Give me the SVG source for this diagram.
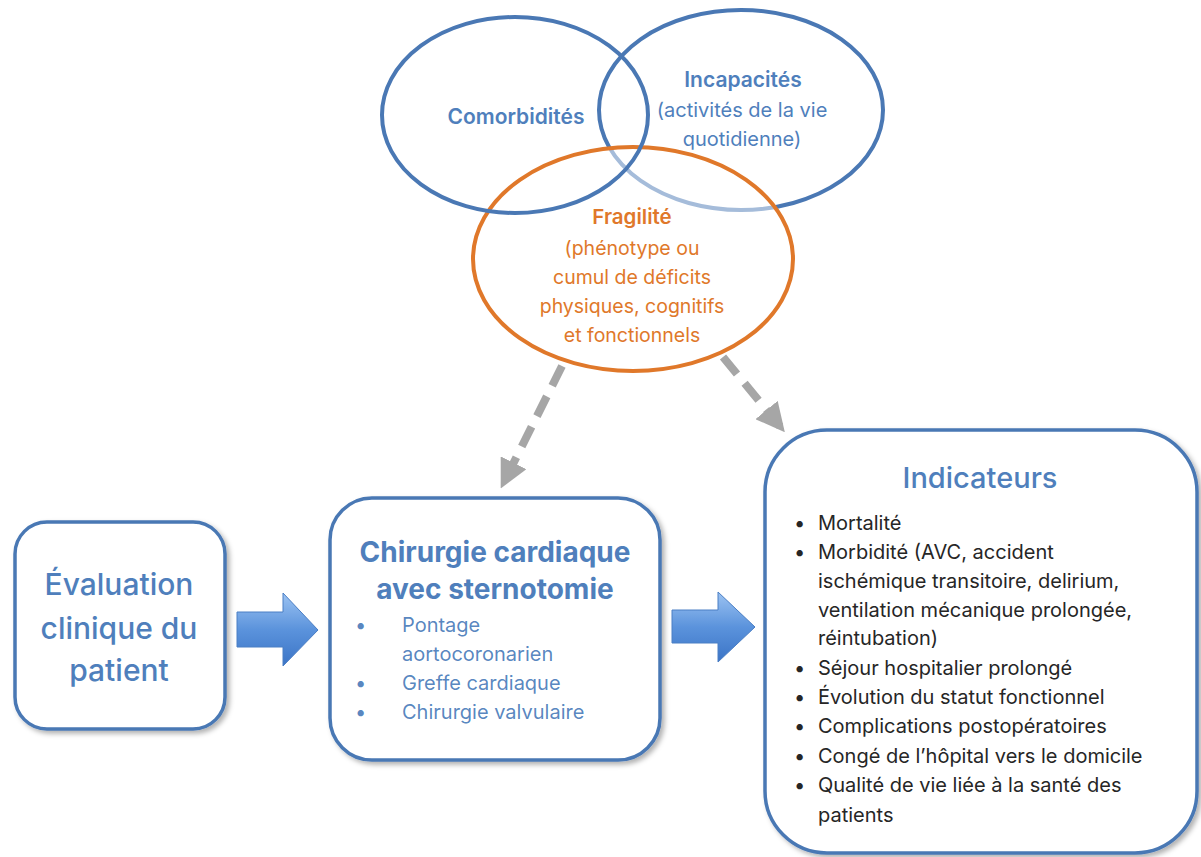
<svg xmlns="http://www.w3.org/2000/svg" width="1201" height="857" viewBox="0 0 1201 857">
<defs>
<style>
.t{font-family:Inter,"Liberation Sans",sans-serif;}
.blue{fill:#4f7fbc;}
.orange{fill:#e0782a;}
.dark{fill:#262626;}
.box{fill:#fff;stroke:#4a78b4;stroke-width:3.5;}
.dash{fill:none;stroke:#a6a6a6;stroke-width:8;stroke-dasharray:22 12;}
</style>
<linearGradient id="ag" x1="0" y1="0" x2="0" y2="1">
<stop offset="0" stop-color="#9cc3f2"/>
<stop offset="0.5" stop-color="#5b93dc"/>
<stop offset="1" stop-color="#3b74c6"/>
</linearGradient>
<filter id="sh" x="-10%" y="-10%" width="125%" height="125%">
<feDropShadow dx="3" dy="3" stdDeviation="2.5" flood-color="#000" flood-opacity="0.3"/>
</filter>
<marker id="ah" viewBox="0 0 10 10" refX="9" refY="5" markerWidth="3.6" markerHeight="3.6" orient="auto" markerUnits="strokeWidth">
<path d="M0,0 L10,5 L0,10 z" fill="#a6a6a6"/>
</marker>
</defs>
<rect width="1201" height="857" fill="#fff"/>

<g id="incapacites">
<ellipse cx="741" cy="110" rx="142" ry="100" fill="none" stroke="#4a78b4" stroke-width="4"/>
</g>
<g id="fragilite">
<ellipse cx="633" cy="259" rx="160" ry="112" fill="#fff" fill-opacity="0.5" stroke="#e0782a" stroke-width="4"/>
</g>
<g id="comorbidites">
<ellipse cx="515" cy="115" rx="133" ry="98" fill="none" stroke="#4a78b4" stroke-width="4"/>
<text class="t blue" x="516" y="124" font-size="21" font-weight="600" text-anchor="middle">Comorbidités</text>
</g>
<g id="incapacites-text" class="t blue" text-anchor="middle" font-size="20">
<text x="743" y="87" font-size="21" font-weight="600">Incapacités</text>
<text x="742" y="117">(activités de la vie</text>
<text x="742" y="146">quotidienne)</text>
</g>
<g id="fragilite-text" class="t orange" text-anchor="middle" font-size="19.5">
<text x="632" y="224" font-size="20.5" font-weight="600">Fragilité</text>
<text x="632" y="255">(phénotype ou</text>
<text x="632" y="284">cumul de déficits</text>
<text x="632" y="313">physiques, cognitifs</text>
<text x="632" y="342">et fonctionnels</text>
</g>

<g id="connectors">
<path class="dash" d="M562,366 L502,486" marker-end="url(#ah)"/>
<path class="dash" d="M723,357 L783,430" marker-end="url(#ah)"/>
<path d="M237,612 L283,612 L283,593 L318,630 L283,666 L283,647 L237,647 z" fill="url(#ag)" stroke="#4a7ec4" stroke-width="1"/>
<path d="M672,610 L718,610 L718,592 L755,627 L718,662 L718,643 L672,643 z" fill="url(#ag)" stroke="#4a7ec4" stroke-width="1"/>
</g>

<g id="evaluation">
<rect class="box" x="15" y="522" width="210" height="207" rx="32" filter="url(#sh)"/>
<g class="t blue" text-anchor="middle" font-size="30" font-weight="500">
<text x="119" y="595">Évaluation</text>
<text x="119" y="639">clinique du</text>
<text x="119" y="681">patient</text>
</g>
</g>

<g id="chirurgie">
<rect class="box" x="330" y="498" width="330" height="262" rx="42" filter="url(#sh)"/>
<g class="t blue" text-anchor="middle" font-size="28" font-weight="700">
<text x="495" y="562">Chirurgie cardiaque</text>
<text x="495" y="599">avec sternotomie</text>
</g>
<g class="t blue" font-size="20" fill-opacity="0.95">
<text x="355" y="632">•</text>
<text x="402" y="632">Pontage</text>
<text x="402" y="661">aortocoronarien</text>
<text x="355" y="690">•</text>
<text x="402" y="690">Greffe cardiaque</text>
<text x="355" y="719">•</text>
<text x="402" y="719">Chirurgie valvulaire</text>
</g>
</g>

<g id="indicateurs">
<rect class="box" x="765" y="430" width="432" height="423" rx="62" filter="url(#sh)"/>
<text class="t blue" x="980" y="488" font-size="29" font-weight="500" text-anchor="middle">Indicateurs</text>
<g class="t dark" font-size="20">
<text x="794" y="530">•</text><text x="818" y="530">Mortalité</text>
<text x="794" y="559">•</text><text x="818" y="559">Morbidité (AVC, accident</text>
<text x="818" y="588">ischémique transitoire, delirium,</text>
<text x="818" y="617">ventilation mécanique prolongée,</text>
<text x="818" y="645">réintubation)</text>
<text x="794" y="675">•</text><text x="818" y="675">Séjour hospitalier prolongé</text>
<text x="794" y="704">•</text><text x="818" y="704">Évolution du statut fonctionnel</text>
<text x="794" y="733">•</text><text x="818" y="733">Complications postopératoires</text>
<text x="794" y="763">•</text><text x="818" y="763">Congé de l’hôpital vers le domicile</text>
<text x="794" y="792">•</text><text x="818" y="792">Qualité de vie liée à la santé des</text>
<text x="818" y="822">patients</text>
</g>
</g>
</svg>
